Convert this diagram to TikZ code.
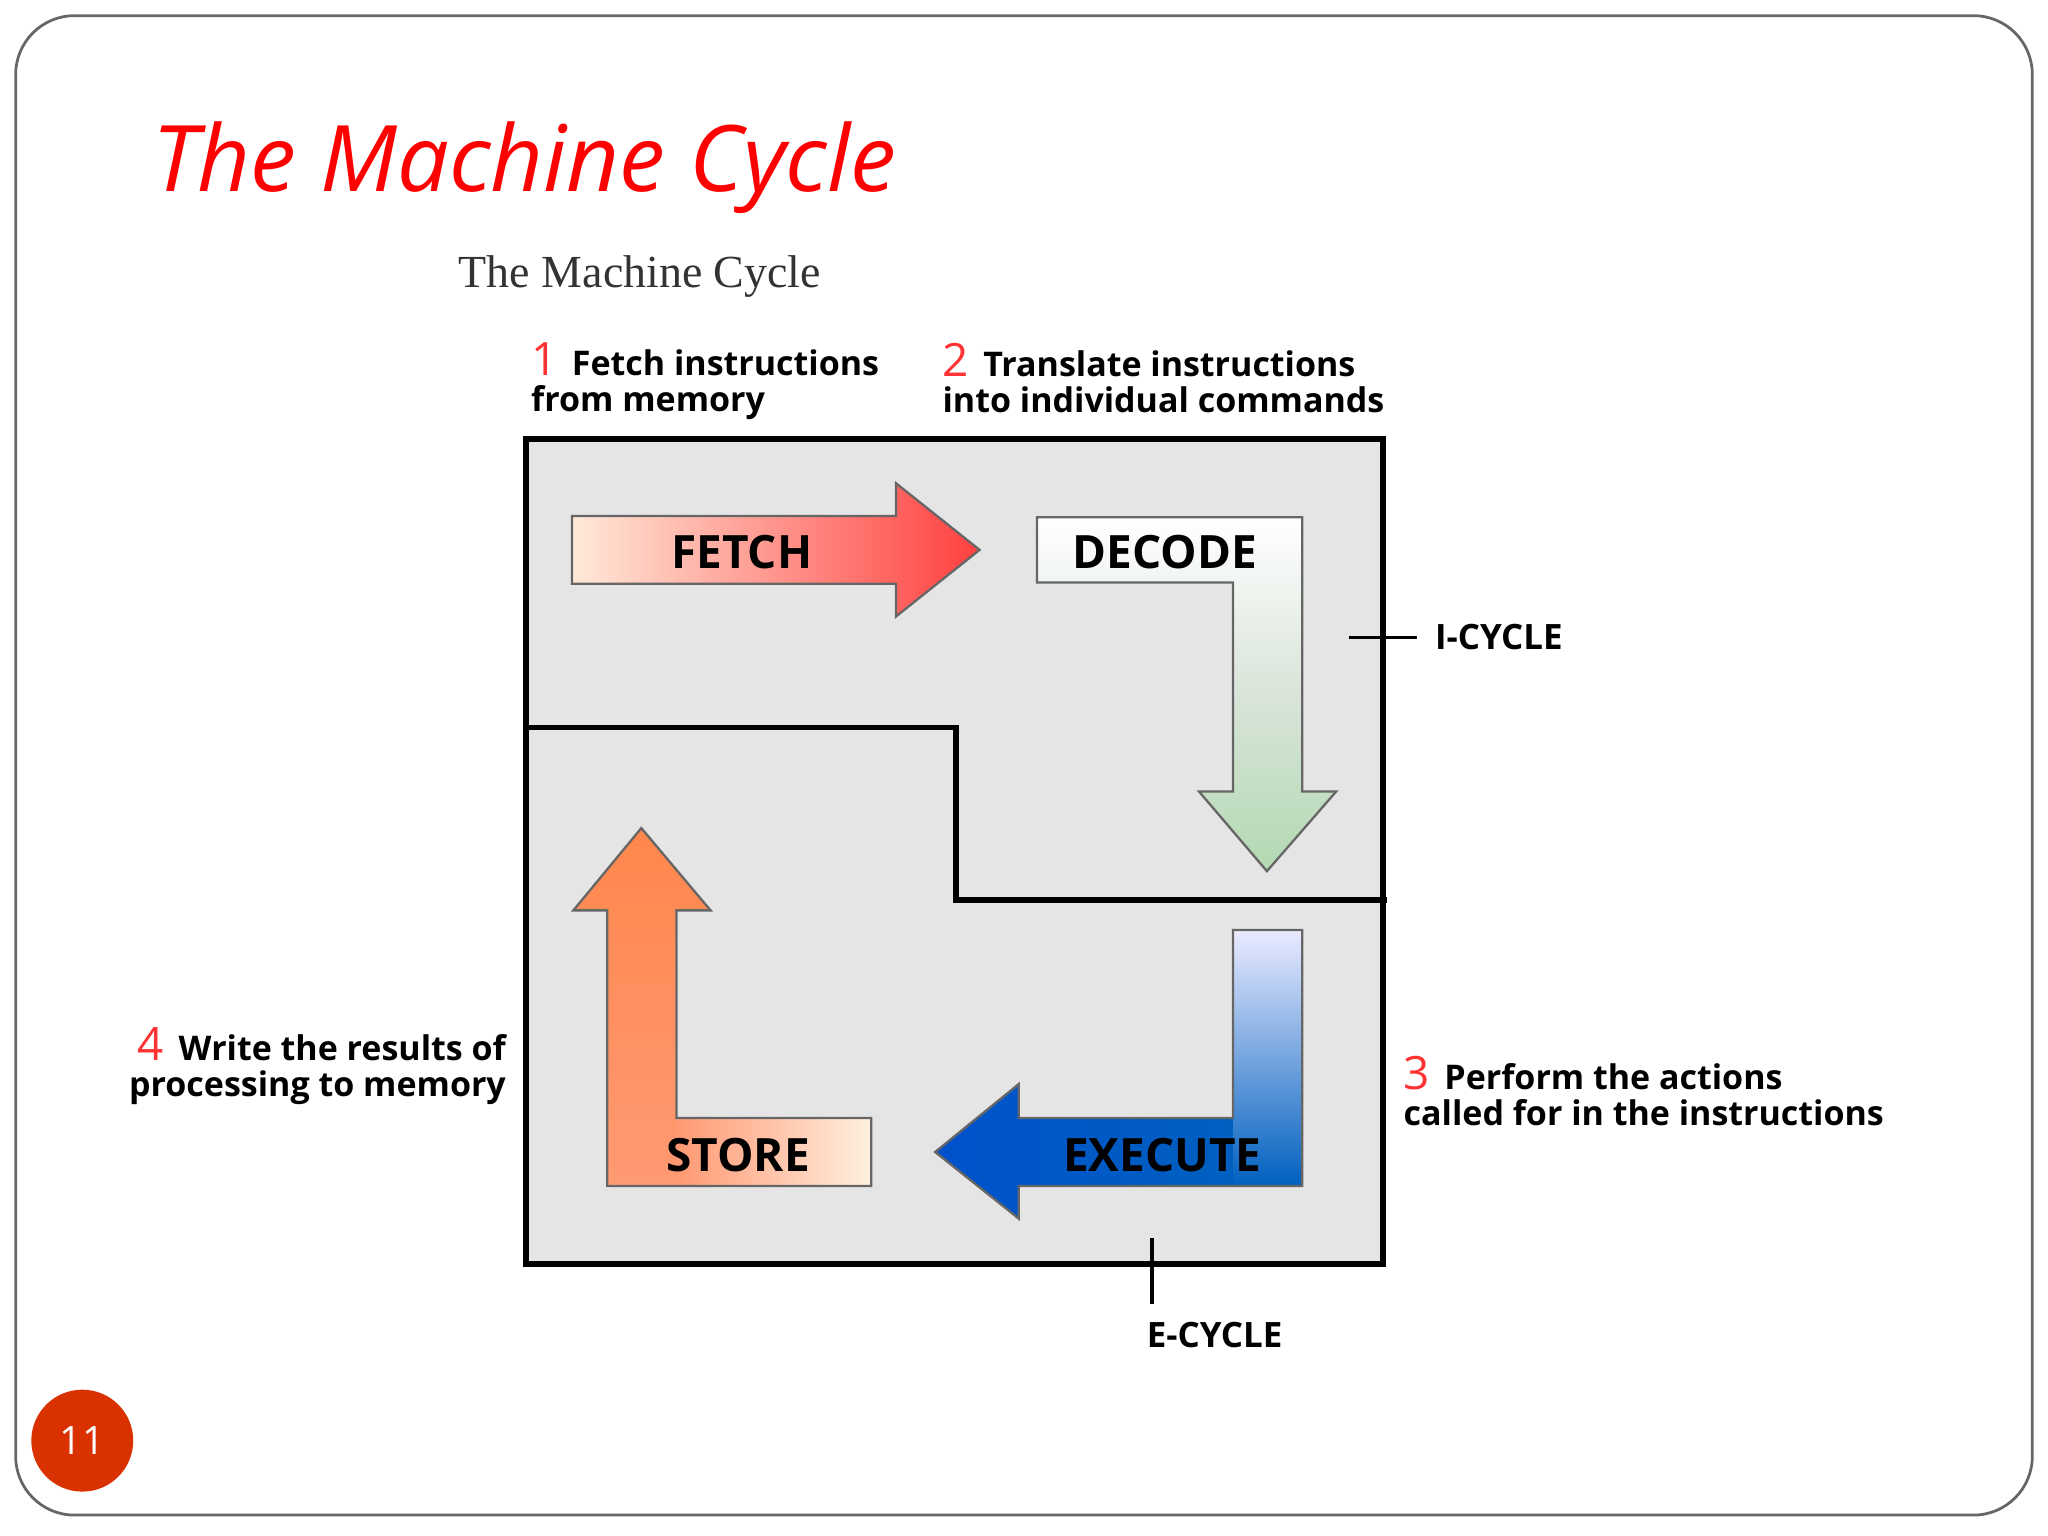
\documentclass[tikz,border=0pt]{standalone}
\usepackage{fontspec}
\setmainfont{Open Sans}
\newfontfamily\serifm{Liberation Serif}
\newcommand\mynum[1]{{\color{red!80!white}\mdseries\fontsize{10}{7.6}\selectfont #1}}
\begin{document}
\begin{tikzpicture}[x=0.01cm,y=-0.01cm,
  lbl/.style={anchor=north west,align=left,font=\bfseries\fontsize{7.4}{7.8}\selectfont,inner sep=0},
  big/.style={font=\bfseries\fontsize{10}{11}\selectfont},
  arr/.style={draw=black!60,line width=0.5pt}]
\useasboundingbox (0,0) rectangle (1568,1176);
\draw[black!60,line width=0.6pt,rounded corners=0.45cm] (12,12) rectangle (1556,1160);
\node[anchor=west,text=red,font=\itshape\fontsize{20}{20}\selectfont] (title) at (104,128) {The Machine Cycle};
\node[circle,fill=orange!45!red!85!black,minimum size=0.78cm,inner sep=0,text=white,font=\fontsize{8.5}{9}\selectfont] (pg) at (63,1103) {11};
\node[font=\serifm\fontsize{10}{11}\selectfont,text=black!80] (sub) at (490,212) {The Machine Cycle};
\draw[fill=black!10,line width=1.3pt] (403,336) rectangle (1059,968);
\draw[line width=1.3pt] (403,557) -- (732,557) -- (732,689) -- (1062,689);
% FETCH
\shade[left color=red!15!orange!15,right color=red!75!white] (438,395) -- (686,395) -- (686,370) -- (750,421) -- (686,472) -- (686,447) -- (438,447) -- cycle;
\draw[arr] (438,395) -- (686,395) -- (686,370) -- (750,421) -- (686,472) -- (686,447) -- (438,447) -- cycle;
\node[big] (fetch) at (568,423) {FETCH};
% DECODE
\shade[top color=white,bottom color=green!50!black!30!white,middle color=green!30!black!15!white] (794,396) -- (997,396) -- (997,606) -- (1023,606) -- (970,667) -- (918,606) -- (944,606) -- (944,446) -- (794,446) -- cycle;
\draw[arr] (794,396) -- (997,396) -- (997,606) -- (1023,606) -- (970,667) -- (918,606) -- (944,606) -- (944,446) -- (794,446) -- cycle;
\node[big] (decode) at (892,423) {DECODE};
% EXECUTE
\shade[top color=blue!8,bottom color=cyan!50!blue!75!black] (944,712) -- (997,712) -- (997,908) -- (944,908) -- cycle;
\shade[left color=cyan!40!blue!80!black,right color=cyan!50!blue!75!black] (716,882) -- (780,830) -- (780,856) -- (944,856) -- (944,908) -- (780,908) -- (780,933) -- cycle;
\draw[arr] (944,712) -- (997,712) -- (997,908) -- (780,908) -- (780,933) -- (716,882) -- (780,830) -- (780,856) -- (944,856) -- cycle;
\node[big] (execute) at (890,884) {EXECUTE};
% STORE
\shade[top color=orange!65!red!70,bottom color=orange!55!red!55] (465,908) -- (465,697) -- (439,697) -- (491,634) -- (544,697) -- (518,697) -- (518,908) -- cycle;
\shade[left color=orange!55!red!55,right color=orange!12] (518,856) -- (667,856) -- (667,908) -- (518,908) -- cycle;
\draw[arr] (465,908) -- (465,697) -- (439,697) -- (491,634) -- (544,697) -- (518,697) -- (518,856) -- (667,856) -- (667,908) -- cycle;
\node[big] (store) at (565,884) {STORE};
% cycles
\coordinate (ic) at (1033,488);
\node[anchor=west,font=\bfseries\fontsize{7.6}{8}\selectfont,inner sep=0] (icl) at (1098,488) {I-CYCLE};
\draw[line width=0.8pt] (ic) -- (1085,488);
\coordinate (ec) at (882,948);
\node[font=\bfseries\fontsize{7.6}{8}\selectfont] (ecl) at (930,1022) {E-CYCLE};
\draw[line width=0.8pt] (ec) -- (882,998);
% labels
\node[lbl] (l1) at (406,262) {\mynum{1}\, Fetch instructions\\from memory};
\node[lbl] (l2) at (721,262) {\mynum{2}\, Translate instructions\\into individual commands};
\node[lbl] (l3) at (1074,808) {\mynum{3}\, Perform the actions\\called for in the instructions};
\node[lbl,align=right,anchor=north east] (l4) at (388,786) {\mynum{4}\, Write the results of\\processing to memory};
\end{tikzpicture}
\end{document}
